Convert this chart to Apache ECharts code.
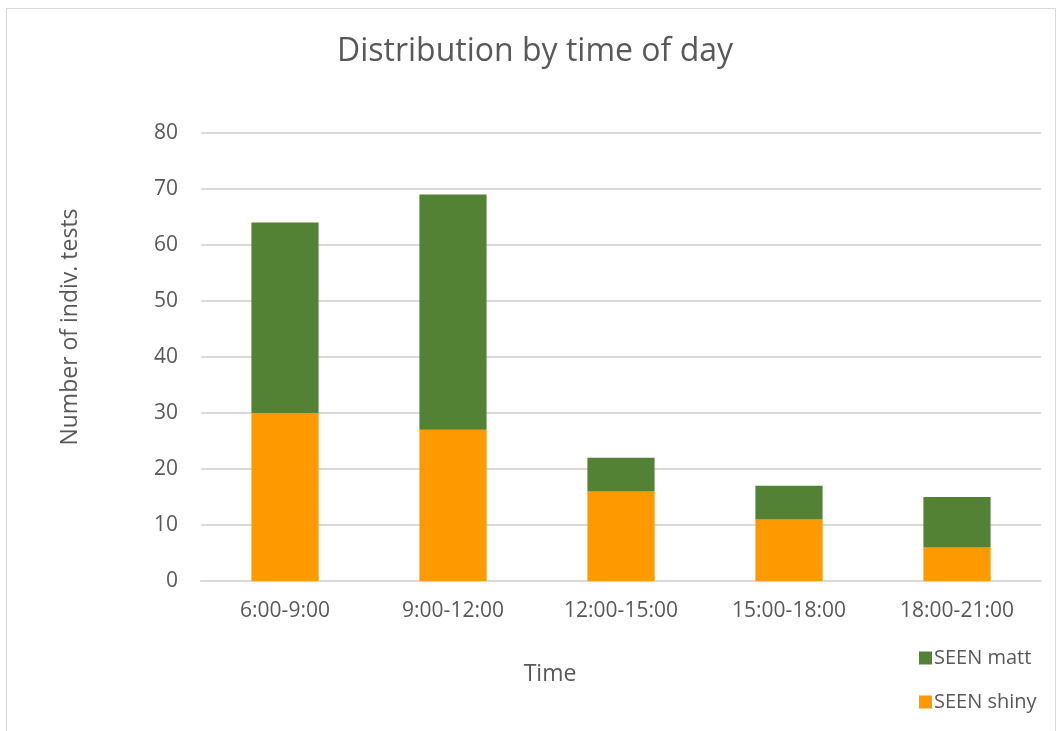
<!DOCTYPE html>
<html>
<head>
<meta charset="utf-8">
<script src="https://cdn.jsdelivr.net/npm/echarts@6/dist/echarts.min.js"></script>
<style>
    html, body { margin: 0; padding: 0; background: #fff; }
    #frame {
        position: absolute; left: 6px; top: 8px; width: 1050px; height: 740px;
        border: 1px solid #d9d9d9; box-sizing: border-box;
    }
    #chart { position: absolute; left: 0; top: 0; width: 1058px; height: 731px; }
</style>
</head>
<body>
<div id="frame"></div>
<div id="chart"></div>
<script>
    var categories = ['6:00-9:00', '9:00-12:00', '12:00-15:00', '15:00-18:00', '18:00-21:00'];
    var shinyValues = [30, 27, 16, 11, 6];
    var mattValues = [34, 42, 6, 6, 9];
    var yTicks = { min: 0, max: 80, interval: 10 };

    var textColor = '#595959';
    var font = '"Open Sans", "Liberation Sans", sans-serif';

    var chart = echarts.init(document.getElementById('chart'));

    chart.setOption({
        animation: false,
        textStyle: { fontFamily: font },
        title: {
            text: 'Distribution by time of day',
            left: 332,
            top: 31,
            padding: 5,
            textStyle: { fontSize: 32, fontWeight: 'normal', color: textColor, fontFamily: font }
        },
        legend: {
            orient: 'vertical',
            left: 914,
            top: 643,
            itemGap: 24,
            itemWidth: 13,
            itemHeight: 13,
            icon: 'rect',
            data: ['SEEN matt', 'SEEN shiny'],
            textStyle: { fontSize: 20, color: textColor, fontFamily: font, padding: [0, 0, 0, -3] }
        },
        grid: { left: 201, right: 17, top: 133, bottom: 150 },
        xAxis: {
            type: 'category',
            data: categories,
            name: 'Time',
            nameLocation: 'middle',
            nameGap: 82,
            nameTextStyle: { fontSize: 23, color: textColor, fontFamily: font, padding: [0, 142, 0, 0] },
            axisLine: { lineStyle: { color: '#d9d9d9', width: 2 } },
            axisTick: { show: false },
            axisLabel: { fontSize: 21, color: textColor, margin: 20, fontFamily: font }
        },
        yAxis: {
            type: 'value',
            min: yTicks.min,
            max: yTicks.max,
            interval: yTicks.interval,
            name: 'Number of indiv. tests',
            nameLocation: 'middle',
            nameGap: 119,
            nameTextStyle: { fontSize: 23, color: textColor, fontFamily: font, padding: [0, 0, 0, 60] },
            axisLine: { show: false },
            axisTick: { show: false },
            axisLabel: { fontSize: 21, color: textColor, margin: 23, fontFamily: font },
            splitLine: { lineStyle: { color: '#d9d9d9', width: 2 } }
        },
        series: [
            {
                name: 'SEEN shiny',
                type: 'bar',
                stack: 'total',
                barWidth: '40%',
                itemStyle: { color: '#ff9900' },
                data: shinyValues
            },
            {
                name: 'SEEN matt',
                type: 'bar',
                stack: 'total',
                barWidth: '40%',
                itemStyle: { color: '#548235' },
                data: mattValues
            }
        ]
    });
</script>
</body>
</html>
